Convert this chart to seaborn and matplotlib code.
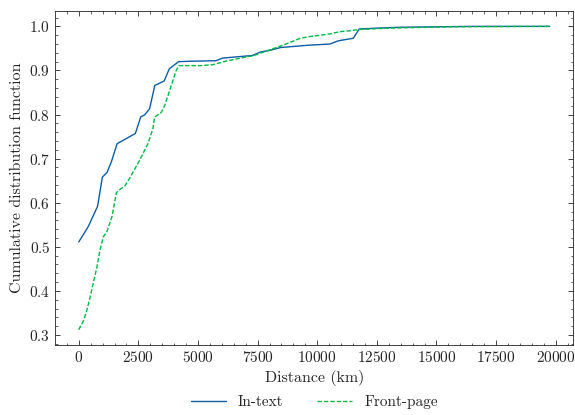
import matplotlib
matplotlib.use("Agg")
import matplotlib.pyplot as plt
from matplotlib.ticker import AutoMinorLocator
import numpy as np
import pandas as pd
import seaborn as sns

# Cumulative distribution of distances (km)
in_text_km = [0, 400, 790, 990, 1190, 1375, 1610, 2375, 2600, 2760, 2970, 3190,
              3580, 3800, 4190, 4710, 5750, 6030, 7280, 7625, 7970, 8460, 9570,
              10540, 10820, 10960, 11510, 11760, 12500, 13500, 16500, 19750]
in_text_cdf = [0.511, 0.546, 0.592, 0.658, 0.669, 0.694, 0.734, 0.757, 0.795, 0.799,
               0.813, 0.866, 0.876, 0.904, 0.920, 0.921, 0.922, 0.928, 0.934, 0.942,
               0.945, 0.952, 0.957, 0.960, 0.966, 0.968, 0.973, 0.994, 0.996, 0.998,
               1.0, 1.0]

front_page_km = [0, 195, 330, 470, 610, 750, 890, 1030, 1170, 1400, 1580, 1720, 1930,
                 2140, 2560, 2900, 3110, 3180, 3460, 3600, 3875, 4080, 4200, 5125,
                 5610, 6240, 7350, 7760, 8600, 9290, 9710, 10540, 10960, 11375,
                 11790, 13000, 15540, 19750]
front_page_cdf = [0.312, 0.332, 0.354, 0.384, 0.418, 0.451, 0.492, 0.523, 0.533,
                  0.570, 0.623, 0.630, 0.638, 0.656, 0.697, 0.734, 0.768, 0.794,
                  0.805, 0.820, 0.865, 0.899, 0.911, 0.911, 0.913, 0.922, 0.934,
                  0.942, 0.958, 0.973, 0.977, 0.983, 0.988, 0.990, 0.993, 0.996,
                  0.999, 1.0]

series_names = ["In-text", "Front-page"]
series_colors = ["#0C5DA5", "#00B945"]

sns.set_theme(style="ticks")
plt.rcParams.update({
    "font.family": ["cmr10", "DejaVu Serif"],
    "mathtext.fontset": "cm",
    "axes.formatter.use_mathtext": True,
    "axes.unicode_minus": False,
    "font.size": 11,
    "axes.labelsize": 11.5,
    "xtick.labelsize": 11,
    "ytick.labelsize": 11,
    "legend.fontsize": 11,
    "axes.linewidth": 0.6,
    "axes.edgecolor": "#222222",
    "xtick.direction": "in",
    "ytick.direction": "in",
    "xtick.top": True,
    "ytick.right": True,
    "xtick.major.size": 3.5,
    "ytick.major.size": 3.5,
    "xtick.minor.size": 1.8,
    "ytick.minor.size": 1.8,
    "xtick.major.width": 0.6,
    "ytick.major.width": 0.6,
    "xtick.minor.width": 0.5,
    "ytick.minor.width": 0.5,
    "xtick.minor.visible": True,
    "ytick.minor.visible": True,
})

df = pd.concat([
    pd.DataFrame({"Distance": in_text_km, "CDF": in_text_cdf, "Set": series_names[0]}),
    pd.DataFrame({"Distance": front_page_km, "CDF": front_page_cdf, "Set": series_names[1]}),
])

fig, ax = plt.subplots(figsize=(5.75, 4.15), dpi=100)
fig.subplots_adjust(left=0.096, right=0.997, top=0.973, bottom=0.169)

sns.lineplot(data=df, x="Distance", y="CDF", hue="Set", style="Set",
             hue_order=series_names, style_order=series_names,
             palette=series_colors, dashes=[(None, None), (3.2, 1.4)],
             linewidth=1.0, ax=ax, estimator=None, sort=True)

ax.set_xlabel("Distance (km)")
ax.set_ylabel("Cumulative distribution function")
ax.set_xticks(np.arange(0, 20001, 2500))
ax.set_yticks(np.arange(0.3, 1.01, 0.1))
ax.xaxis.set_minor_locator(AutoMinorLocator(5))
ax.yaxis.set_minor_locator(AutoMinorLocator(5))
ax.margins(x=0.05, y=0.05)

handles, labels = ax.get_legend_handles_labels()
ax.legend(handles, labels, loc="upper center", bbox_to_anchor=(0.5, -0.11),
          ncol=2, frameon=False, columnspacing=2.2, handlelength=2.3)

fig.savefig("out.png", dpi=100)
